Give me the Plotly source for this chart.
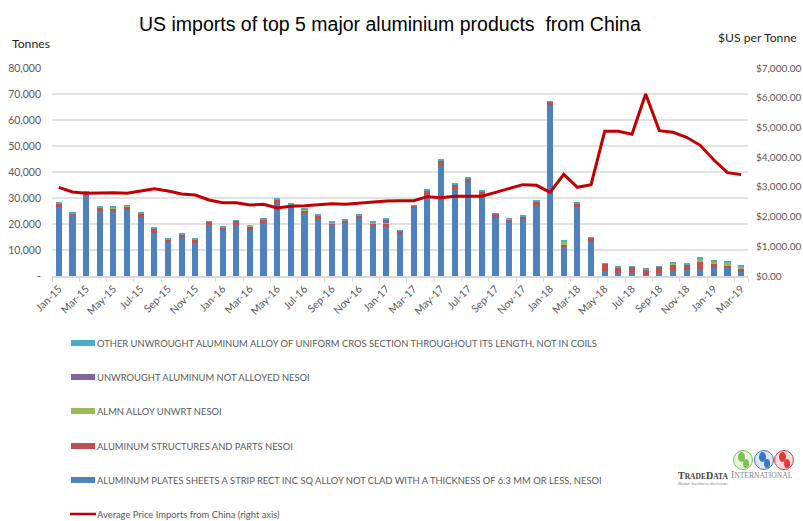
import plotly.graph_objects as go

W, H = 803, 521
L, R, T, B = 52, 748, 68, 276

years = ["15", "16", "17", "18"]
mon = ["Jan", "Feb", "Mar", "Apr", "May", "Jun", "Jul", "Aug", "Sep", "Oct", "Nov", "Dec"]
months = [f"{m}-{y}" for y in years for m in mon] + ["Jan-19", "Feb-19", "Mar-19"]

plates = [26400,23300,31300,25100,24600,25300,22300,16500,13100,14900,12800,19500,
          17600,19400,17600,20400,27700,27000,24100,21900,19500,20500,22300,19200,
          19000,16300,26300,31000,42800,33600,36300,31200,22400,20900,21400,27400,
          65500,11000,26700,13000,2100,1300,1300,400,1300,2100,2400,2800,
          3200,3200,1700]
structures = [1400,900,200,1300,1300,1400,1900,1700,1100,1000,1200,1300,
              1100,1800,1400,1300,1700,200,1000,1400,800,900,1000,1100,
              1100,1000,900,1700,1600,1500,1100,1200,1100,900,1400,1200,
              1400,1000,1000,1700,2600,1900,2200,2200,2200,2500,2200,2600,
              1400,600,900]
alloy = [100,0,0,100,500,400,0,200,0,0,0,100,
         100,0,400,100,0,0,500,0,100,0,100,100,
         100,0,0,300,0,0,0,0,300,400,0,0,
         0,1300,100,0,0,0,0,0,0,300,0,1500,
         1000,1300,1100]
not_alloyed = [0,0,0,0,0,0,0,0,0,100,0,0,
               0,0,0,0,0,0,0,100,0,0,0,0,
               1600,100,0,0,0,0,0,0,100,0,200,0,
               100,0,0,0,0,0,0,0,0,0,0,0,
               0,0,0]
other = [700,500,1300,500,200,200,100,600,500,300,700,200,
         400,100,0,600,300,1000,300,200,500,500,600,600,
         400,100,100,300,300,400,300,300,300,100,100,500,
         300,400,700,300,300,400,300,500,300,400,400,400,
         600,500,500]
price = [2984,2827,2782,2805,2805,2782,2861,2939,2861,2760,2726,2558,
         2468,2468,2390,2412,2289,2345,2367,2412,2434,2412,2457,2502,
         2524,2535,2535,2670,2637,2682,2682,2682,2816,2951,3074,3052,
         2816,3422,2984,3074,4869,4869,4768,6126,4892,4836,4667,4398,
         3904,3478,3411]

names = ["ALUMINUM PLATES SHEETS A STRIP RECT INC SQ ALLOY NOT CLAD WITH A THICKNESS OF 6.3 MM OR LESS, NESOI",
         "ALUMINUM STRUCTURES AND PARTS NESOI",
         "ALMN ALLOY UNWRT NESOI",
         "UNWROUGHT ALUMINUM NOT ALLOYED NESOI",
         "OTHER UNWROUGHT ALUMINUM ALLOY OF UNIFORM CROS SECTION THROUGHOUT ITS LENGTH, NOT IN COILS"]
line_name = "Average Price Imports from China (right axis)"
colors = ["#4f81bd", "#c0504d", "#9bbb59", "#8064a2", "#4bacc6"]
line_color = "#c00000"
left_ticks = [0, 10000, 20000, 30000, 40000, 50000, 60000, 70000, 80000]
left_labels = ["-", "10,000", "20,000", "30,000", "40,000", "50,000", "60,000", "70,000", "80,000"]
right_ticks = [0, 1000, 2000, 3000, 4000, 5000, 6000, 7000]
right_labels = ["$0.00", "$1,000.00", "$2,000.00", "$3,000.00", "$4,000.00", "$5,000.00", "$6,000.00", "$7,000.00"]

FONT = "Lato"
GREY = "#595959"


def fx(x):
    return (x - L) / (R - L)


def fy(y):
    return (B - y) / (B - T)


fig = go.Figure()
for name, vals, col in zip(names, [plates, structures, alloy, not_alloyed, other], colors):
    fig.add_trace(go.Bar(x=months, y=vals, name=name, marker=dict(color=col, line_width=0), showlegend=False))
fig.add_trace(go.Scatter(x=months, y=price, name=line_name, yaxis="y2", mode="lines",
                         line=dict(color=line_color, width=3), showlegend=False))

shapes, ann = [], []


def text(x, y, s, size, color=GREY, family=FONT, xanchor="left"):
    ann.append(dict(xref="paper", yref="paper", x=fx(x), y=fy(y), text=s, showarrow=False,
                    xanchor=xanchor, yanchor="middle", font=dict(family=family, size=size, color=color),
                    borderpad=0, borderwidth=0))


text(390, 24, "US imports of top 5 major aluminium products \u00a0from China", 19.5, "#000000", "Liberation Sans", "center")
text(12, 44, "Tonnes", 12.2, "#262626")
text(718, 37, "$US per Tonne", 12.2, "#262626")

# legend rows, top to bottom
rows = [(343, 4), (377, 3), (411, 2), (446, 1), (480, 0)]
for y, i in rows:
    shapes.append(dict(type="rect", xref="paper", yref="paper", x0=fx(71), x1=fx(95), y0=fy(y - 3), y1=fy(y + 3),
                       fillcolor=colors[i], line_width=0))
    text(97, y, names[i], 9.4)
shapes.append(dict(type="line", xref="paper", yref="paper", x0=fx(70), x1=fx(96), y0=fy(514), y1=fy(514),
                   line=dict(color=line_color, width=2.5)))
text(97, 514, line_name, 9.4)

# company logo
globes = [(743, 460, "#7fbf5a", "#e8f3de"), (764, 460, "#3f78bd", "#dbe6f3"), (784, 460, "#e0393b", "#f8dcdc")]
for cx, cy, c, bg in globes:
    shapes.append(dict(type="circle", xref="paper", yref="paper", x0=fx(cx - 9.5), x1=fx(cx + 9.5),
                       y0=fy(cy + 9.5), y1=fy(cy - 9.5), fillcolor=bg, line=dict(color=c, width=1)))
    shapes.append(dict(type="circle", xref="paper", yref="paper", x0=fx(cx - 5), x1=fx(cx + 2),
                       y0=fy(cy + 2), y1=fy(cy - 8), fillcolor=c, line_width=0))
    shapes.append(dict(type="circle", xref="paper", yref="paper", x0=fx(cx), x1=fx(cx + 6),
                       y0=fy(cy + 8), y1=fy(cy - 1), fillcolor=c, line_width=0))
text(678, 475, '<b>T<span style="font-size:7.5px">RADE</span>D<span style="font-size:7.5px">ATA</span></b>', 10, "#404040", "Liberation Serif")
text(731, 475, 'I<span style="font-size:7.6px">NTERNATIONAL</span>', 9.5, "#7f7f7f", "Liberation Serif")
text(678, 483, "<i>Better business decisions</i>", 5, "#7f7f7f", "Liberation Serif")

fig.update_layout(
    width=W, height=H, autosize=False,
    margin=dict(l=L, r=W - R, t=T, b=H - B, pad=0),
    paper_bgcolor="white", plot_bgcolor="white",
    barmode="stack", bargap=0.55, showlegend=False,
    font=dict(family=FONT, size=11, color=GREY),
    shapes=shapes, annotations=ann,
    xaxis=dict(type="category", categoryorder="array", categoryarray=months, tickmode="array",
               tickvals=months[::2], ticktext=months[::2], tickson="boundaries", tickangle=-45,
               ticks="outside", ticklen=4, tickcolor="#d9d9d9", showline=True, linecolor="#d9d9d9",
               linewidth=1.5, showgrid=False, automargin=False, ticklabelstandoff=1,
               tickfont=dict(family=FONT, size=10.5, color=GREY)),
    yaxis=dict(range=[0, 80000], tickmode="array", tickvals=left_ticks, ticktext=left_labels,
               gridcolor="#e2e2e2", gridwidth=1.5, zeroline=False, showline=False, automargin=False,
               ticks="", ticklabelstandoff=10, tickfont=dict(family=FONT, size=10.5, color=GREY)),
    yaxis2=dict(range=[0, 7000], overlaying="y", side="right", tickmode="array", tickvals=right_ticks,
                ticktext=right_labels, showgrid=False, zeroline=False, showline=False, automargin=False,
                ticks="", ticklabelstandoff=7, tickfont=dict(family=FONT, size=10, color=GREY)),
)
fig.write_html("out.html", config=dict(displayModeBar=False),
               post_script="document.body.style.margin='0';document.body.style.overflow='hidden';")
